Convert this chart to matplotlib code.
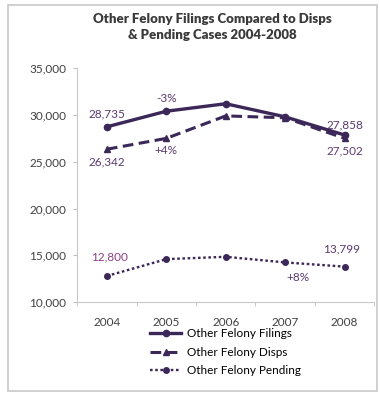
import matplotlib.pyplot as plt
from matplotlib.patches import Rectangle

years = ["2004", "2005", "2006", "2007", "2008"]
filings = [28735, 30400, 31200, 29800, 27858]
disps = [26342, 27500, 29900, 29700, 27502]
pending = [12800, 14600, 14850, 14250, 13799]
yticks = [10000, 15000, 20000, 25000, 30000, 35000]

line_col = "#3b2858"
label_col = "#5a3a6e"
pend_label_col = "#8a3f86"

plt.rcParams["font.family"] = ["Lato", "DejaVu Sans"]

fig = plt.figure(figsize=(3.8, 3.94), dpi=100)
fig.patches.append(Rectangle((0.022, 0.008), 0.97, 0.98, transform=fig.transFigure,
                             fill=False, edgecolor="#c8c8c8", linewidth=1.2))
ax = fig.add_axes([0.203, 0.233, 0.782, 0.594])

x = range(len(years))
ax.plot(x, filings, color=line_col, lw=2.4, marker="o", ms=4.5, label="Other Felony Filings")
ax.plot(x, disps, color=line_col, lw=2.2, ls=(0, (3.5, 1.8)), marker="^", ms=4.5, label="Other Felony Disps")
ax.plot(x, pending, color=line_col, lw=1.7, ls=(0, (1.1, 1.1)), marker="o", ms=4, label="Other Felony Pending")

ax.set_xlim(-0.5, 4.5)
ax.set_ylim(10000, 35000)
ax.set_yticks(yticks)
ax.set_yticklabels([f"{v:,}" for v in yticks], fontsize=8.5, color="#404040")
ax.set_xticks(list(x))
ax.set_xticklabels(years, fontsize=8.5, color="#404040")
ax.tick_params(axis="x", length=0, pad=11)
ax.tick_params(axis="y", length=3, color="#c0c0c0", pad=5)
ax.set_xticks([-0.5 + i for i in range(6)], minor=True)
ax.tick_params(axis="x", which="minor", length=3, color="#c0c0c0")
for s in ["top", "right"]:
    ax.spines[s].set_visible(False)
for s in ["left", "bottom"]:
    ax.spines[s].set_color("#c8c8c8")

fs = 8.5
ax.annotate(f"{filings[0]:,}", (0, filings[0]), xytext=(0, 5), textcoords="offset points",
            ha="center", va="bottom", fontsize=fs, color=label_col)
ax.annotate("-3%", (1, filings[1]), xytext=(0, 5), textcoords="offset points",
            ha="center", va="bottom", fontsize=fs, color=label_col)
ax.annotate(f"{filings[4]:,}", (4, filings[4]), xytext=(0, 3), textcoords="offset points",
            ha="center", va="bottom", fontsize=fs, color=label_col)
ax.annotate(f"{disps[0]:,}", (0, disps[0]), xytext=(0, -5), textcoords="offset points",
            ha="center", va="top", fontsize=fs, color=label_col)
ax.annotate("+4%", (1, disps[1]), xytext=(0, -5), textcoords="offset points",
            ha="center", va="top", fontsize=fs, color=label_col)
ax.annotate(f"{disps[4]:,}", (4, disps[4]), xytext=(0, -5), textcoords="offset points",
            ha="center", va="top", fontsize=fs, color=label_col)
ax.annotate(f"{pending[0]:,}", (0, pending[0]), xytext=(2, 10), textcoords="offset points",
            ha="center", va="bottom", fontsize=fs, color=pend_label_col)
ax.annotate(f"{pending[4]:,}", (4, pending[4]), xytext=(-2, 9), textcoords="offset points",
            ha="center", va="bottom", fontsize=fs, color=label_col)
ax.annotate("+8%", (3, pending[3]), xytext=(9, -7), textcoords="offset points",
            ha="center", va="top", fontsize=fs, color=label_col)

fig.suptitle("Other Felony Filings Compared to Disps\n& Pending Cases 2004-2008",
             x=0.56, y=0.968, fontsize=9.5, fontweight="heavy", color="#3a3a3a", linespacing=1.45)

ax.legend(loc="upper center", bbox_to_anchor=(0.5, -0.085), frameon=False, fontsize=8.5,
          handlelength=2.6, labelspacing=0.65, handletextpad=0.5, borderpad=0)

fig.savefig("out.png", dpi=100)
